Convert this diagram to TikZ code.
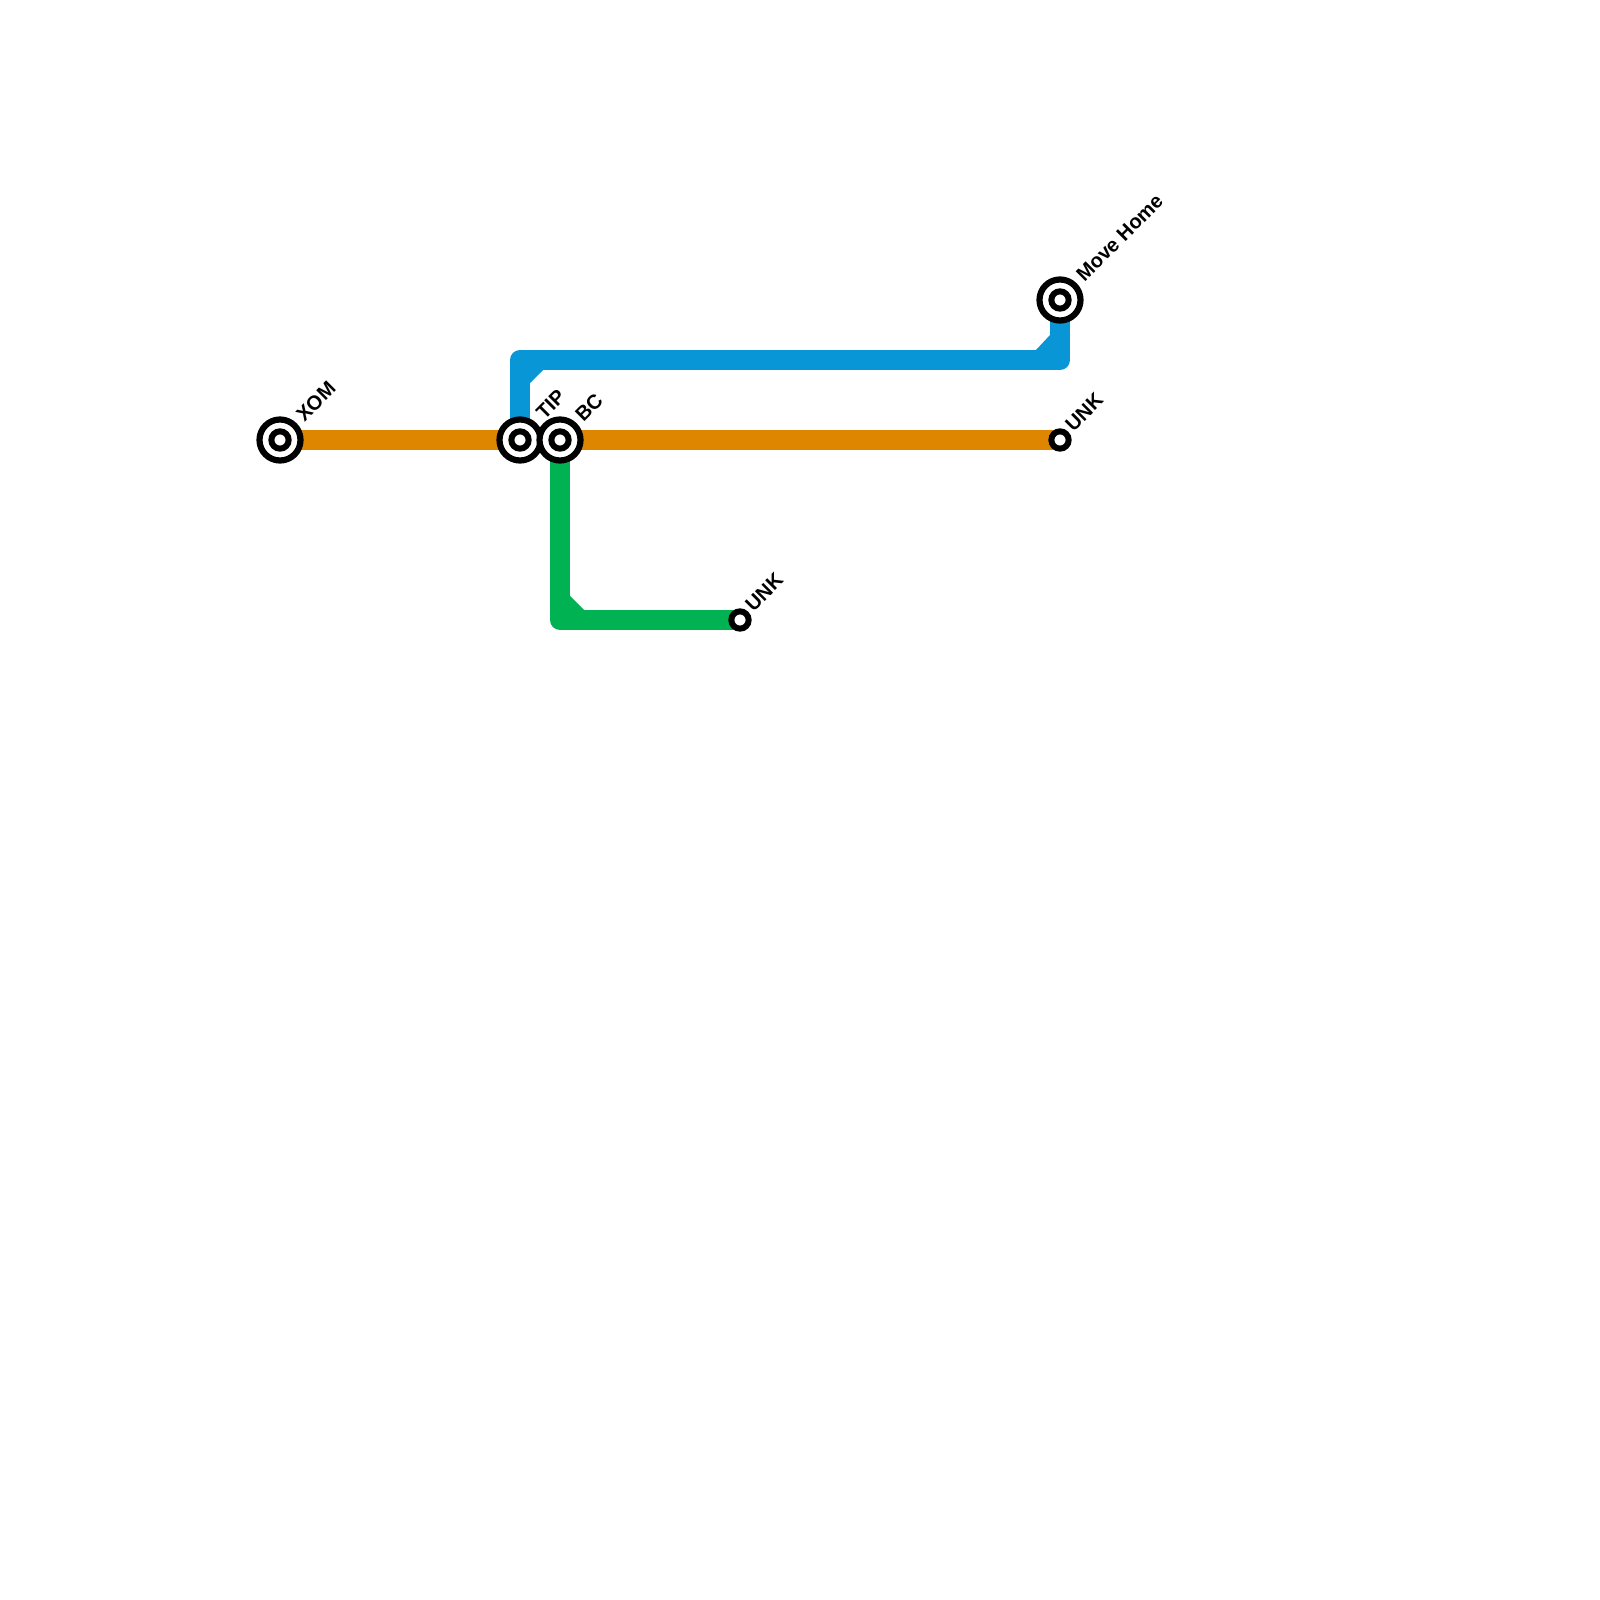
\documentclass[tikz,border=0pt]{standalone}
\usepackage{fontspec}
\setmainfont{Liberation Sans}
\definecolor{lineblue}{HTML}{0896D7}
\definecolor{lineorange}{HTML}{DF8600}
\definecolor{linegreen}{HTML}{00B251}
\tikzset{
  x=0.01cm,y=-0.01cm,
  metro/.style={line width=0.2cm,line join=round},
  stnlabel/.style={inner sep=0pt,anchor=base west,rotate=45,font=\bfseries\fontsize{5.72pt}{7pt}\selectfont,text=black},
  ptbig/.style={circle,draw=black,fill=white,line width=0.062cm,minimum size=0.41cm,inner sep=0pt},
  ptsmall/.style={circle,draw=black,fill=white,line width=0.06cm,minimum size=0.173cm,inner sep=0pt},
  anchorpt/.style={inner sep=0pt,minimum size=0pt},
}
\begin{document}
\begin{tikzpicture}
\useasboundingbox (0,0) rectangle (1600,1600);
\fill[white] (0,0) rectangle (1600,1600);
% station positions
\node[anchorpt] (xom) at (280,440) {};
\node[anchorpt] (tip) at (520,440) {};
\node[anchorpt] (bc) at (560,440) {};
\node[anchorpt] (home) at (1060,300) {};
\node[anchorpt] (unka) at (1060,440) {};
\node[anchorpt] (unkb) at (740,620) {};
% lines
\draw[metro,lineblue] (tip.center) |- (home.center |- 0,360) -- (home.center);
\fill[lineblue] (530,383) -- (543,370) -- (530,370) -- cycle;
\fill[lineblue] (1050,335) -- (1036,350) -- (1050,350) -- cycle;
\draw[metro,linegreen] (bc.center) |- (unkb.center);
\fill[linegreen] (570,596) -- (584,610) -- (570,610) -- cycle;
\draw[metro,lineorange] (xom.center) -- (tip.center) -- (bc.center) -- (unka.center);
% stations
\foreach \n in {xom,tip,bc,home}{
  \node[ptbig] at (\n) {};
  \node[ptsmall] at (\n) {};
}
\foreach \n in {unka,unkb}{
  \node[ptsmall] at (\n) {};
}
% labels
\node[stnlabel] (lxom) at (304,423) {XOM};
\node[stnlabel] (ltip) at (544,421) {TIP};
\node[stnlabel] (lbc) at (583,423) {BC};
\node[stnlabel] (lhome) at (1084,283) {Move Home};
\node[stnlabel] (lunka) at (1073,433) {UNK};
\node[stnlabel] (lunkb) at (753,613) {UNK};
\end{tikzpicture}
\end{document}
